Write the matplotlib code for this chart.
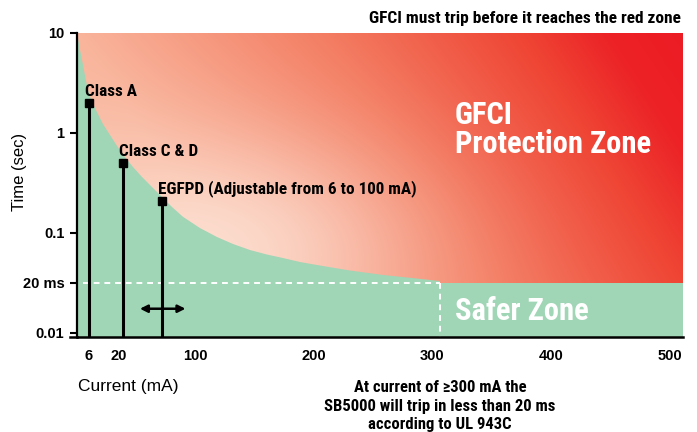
import os
import numpy as np
import matplotlib
matplotlib.use("Agg")
import matplotlib.pyplot as plt
from matplotlib import font_manager
from matplotlib.font_manager import FontProperties
from matplotlib.patches import Polygon
from matplotlib.colors import to_rgb

# ----------------------------------------------------------------------------
# Data
curve_ma = [0, 0.5, 1.5, 3, 4.5, 6, 7.9, 9.7, 12.5, 15.8, 19.1, 25.3, 34.7,
            43.2, 52.6, 65.3, 75.8, 87.4, 104.2, 118.5, 132, 146.3, 160.6,
            174.1, 188.4, 202.7, 230.5, 258.3, 286.9, 306.3]
curve_s = [10, 8.91, 6.76, 4.79, 3.31, 2.45, 1.95, 1.62, 1.23, 0.955, 0.741,
           0.589, 0.457, 0.372, 0.302, 0.229, 0.182, 0.145, 0.112, 0.0879,
           0.0702, 0.0578, 0.050, 0.0447, 0.0393, 0.0357, 0.0299, 0.0259,
           0.0231, 0.0213]

device_names = ["Class A", "Class C & D", "EGFPD (Adjustable from 6 to 100 mA)"]
device_ma = [6, 24, 65]
device_s = [2.0, 0.5, 0.21]

limit_ma = 306
limit_s = 0.02
dash_start_ma = 3
arrow_ma = [42, 90]
arrow_s = 0.014

x_ticks = [6, 20, 100, 200, 300, 400, 500]
y_ticks = [0.01, 0.02, 0.1, 1, 10]
y_tick_labels = ["0.01", "20 ms", "0.1", "1", "10"]

# piecewise axis scales of the drawing
x_knots = [0, 6, 20, 100, 500]
x_pos = [0, 12, 42, 118, 593]
y_knots = np.log10([0.01, 0.02, 0.1, 1, 10])
y_pos = [0, 0.5, 1, 2, 3]

SANS = ["Liberation Sans", "DejaVu Sans"]
GREEN = "#a0d5b6"


def pw(x, xp, fp):
    x = np.asarray(x, dtype=float)
    s0 = (fp[1] - fp[0]) / (xp[1] - xp[0])
    s1 = (fp[-1] - fp[-2]) / (xp[-1] - xp[-2])
    return np.where(x < xp[0], fp[0] + (x - xp[0]) * s0,
                    np.where(x > xp[-1], fp[-1] + (x - xp[-1]) * s1,
                             np.interp(x, xp, fp)))


def x_fwd(v):
    return pw(v, x_knots, x_pos)


def x_inv(p):
    return pw(p, x_pos, x_knots)


def y_fwd(v):
    return pw(np.log10(np.clip(v, 1e-9, None)), y_knots, y_pos)


def y_inv(p):
    return 10 ** pw(p, y_pos, y_knots)


def narrow_bold():
    # look for an installed condensed bold face
    prefs = ["liberation sans narrow", "roboto condensed", "noto sans",
             "open sans", "dejavu sans", "arial narrow"]
    found = []
    for f in font_manager.fontManager.ttflist:
        base = os.path.basename(f.fname).lower()
        nm = (f.name + " " + base).lower()
        cond = ("narrow" in nm or "condensed" in nm
                or f.stretch in ("condensed", "semi-condensed"))
        if "semicondensed" in base or "extracondensed" in base:
            cond = False
        bold = f.weight in (700, "bold") or "bold" in base
        if not cond or not bold or f.style != "normal":
            continue
        if "mono" in nm or "serif" in nm or "semibold" in base \
                or "extrabold" in base or "black" in base:
            continue
        rank = len(prefs)
        for i, p in enumerate(prefs):
            if f.name.lower().startswith(p):
                rank = i
                break
        found.append((rank, f.fname))
    if found:
        found.sort()
        return FontProperties(fname=found[0][1]), 1.0
    return FontProperties(family="Roboto", weight="bold"), 0.86


# ----------------------------------------------------------------------------
def main():
    W, H = 697, 432
    fp_base, scale = narrow_bold()

    def nfont(size):
        p = fp_base.copy()
        p.set_size(size * scale)
        return p

    fig = plt.figure(figsize=(W / 100, H / 100), dpi=100)
    fig.patch.set_facecolor("white")
    ax = fig.add_axes([77 / W, 1 - 337 / H, 606 / W, 304 / H])
    ax.set_xscale("function", functions=(x_fwd, x_inv))
    ax.set_yscale("function", functions=(y_fwd, y_inv))
    ax.set_xlim(0, 511)
    ax.set_ylim(0.00946, 10)
    ax.set_facecolor(GREEN)

    # diagonal gradient plus a pale glow along the curve knee
    nx, ny = 606, 304
    gu, gw = np.meshgrid(np.arange(nx) + 0.5, ny - (np.arange(ny) + 0.5))
    t = gu + 0.65 * (gw - 304)
    stops = [-250, 0, 250, 445, 530, 606]
    cols = ["#fbc8b4", "#f9b49b", "#f37b60", "#ef4434", "#ec2226", "#ec1c24"]
    rgb = np.array([to_rgb(c) for c in cols])
    img = np.dstack([np.interp(t, stops, rgb[:, k]) for k in range(3)])
    g = 0.8 * np.exp(-(((gu - 130) / 200) ** 2 + ((gw - 90) / 110) ** 2))
    glow = np.array(to_rgb("#fde6da"))
    img = img * (1 - g[..., None]) + glow * g[..., None]
    im = ax.imshow(img, extent=[0, 1, 0, 1], transform=ax.transAxes,
                   aspect="auto", origin="upper", zorder=1,
                   interpolation="bilinear")
    verts = list(zip(curve_ma, curve_s)) + [(limit_ma, limit_s),
                                             (530, limit_s), (530, 12), (0, 12)]
    clip = Polygon(verts, closed=True, transform=ax.transData)
    im.set_clip_path(clip)

    # 20 ms limit
    dash = (0, (3, 2.5))
    ax.plot([dash_start_ma, limit_ma], [limit_s, limit_s], color="white",
            lw=1.4, ls=dash, zorder=2)
    ax.plot([limit_ma, limit_ma], [limit_s, 0.009], color="white",
            lw=1.4, ls=dash, zorder=2)

    # device trip lines
    for name, x, y in zip(device_names, device_ma, device_s):
        ax.plot([x, x], [0.009, y], color="black", lw=2.2,
                solid_capstyle="butt", zorder=3)
        ax.plot(x, y, "s", ms=6, color="black", zorder=4)
        ax.annotate(name, (x, y), xytext=(-4, 7), textcoords="offset pixels",
                    ha="left", va="baseline", fontproperties=nfont(12.3),
                    zorder=5)

    ax.annotate("", xy=(arrow_ma[1], arrow_s), xytext=(arrow_ma[0], arrow_s),
                arrowprops=dict(arrowstyle="<|-|>", color="black", lw=1.8,
                                mutation_scale=11, shrinkA=0, shrinkB=0),
                zorder=5)

    # axes styling
    for s in ["top", "right"]:
        ax.spines[s].set_visible(False)
    ax.spines["left"].set_linewidth(1.6)
    ax.spines["bottom"].set_linewidth(1.8)
    ax.plot([-0.012, 0], [0, 0], transform=ax.transAxes, clip_on=False,
            color="black", lw=1.8)
    ax.set_xticks(x_ticks, [str(v) for v in x_ticks], fontweight="bold",
                  family=SANS, fontsize=10.5)
    ax.set_yticks(y_ticks, y_tick_labels, fontweight="bold",
                  family=SANS, fontsize=10.5)
    ax.minorticks_off()
    ax.tick_params(axis="y", length=5, width=1.5, pad=4)
    ax.tick_params(axis="x", length=0, pad=9)

    # texts
    fig.text(681 / W, 1 - 19 / H, "GFCI must trip before it reaches the red zone",
             ha="right", va="center", fontproperties=nfont(12.5))
    fig.text(455 / W, 1 - 124 / H, "GFCI", ha="left", va="baseline",
             fontproperties=nfont(22), color="white")
    fig.text(455 / W, 1 - 153 / H, "Protection Zone", ha="left", va="baseline",
             fontproperties=nfont(22), color="white")
    fig.text(455 / W, 1 - 320 / H, "Safer Zone", ha="left", va="baseline",
             fontproperties=nfont(22), color="white")
    fig.text(20 / W, 1 - 172 / H, "Time (sec)", rotation=90, ha="center",
             va="center", fontsize=12, family=SANS)
    fig.text(78 / W, 1 - 386 / H, "Current (mA)", ha="left", va="center",
             fontsize=12.5, family=SANS)
    note = ["At current of \u2265300 mA the",
            "SB5000 will trip in less than 20 ms",
            "according to UL 943C"]
    for line, yy in zip(note, [388, 407, 425]):
        fig.text(440 / W, 1 - yy / H, line, ha="center", va="center",
                 fontproperties=nfont(12))

    fig.savefig("out.png", dpi=100)


# ----------------------------------------------------------------------------
if __name__ == "__main__":
    main()
